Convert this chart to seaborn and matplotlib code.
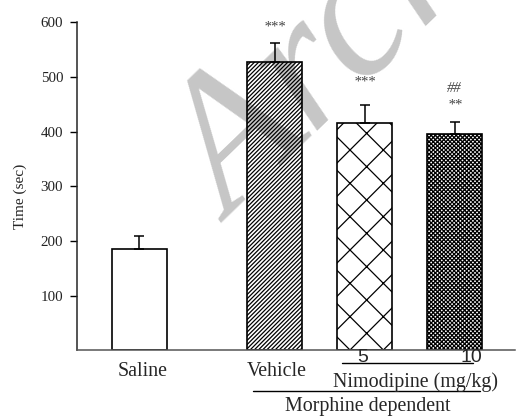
import matplotlib
matplotlib.use("Agg")
import matplotlib.pyplot as plt
import matplotlib.transforms as mtransforms
import seaborn as sns

# bar data (Time in sec, mean and SEM)
groups = ["Saline", "Vehicle", "Nimodipine 5", "Nimodipine 10"]
time_mean = [186, 528, 416, 396]
time_sem = [23, 34, 33, 22]
stars = ["", "***", "***", "**"]
star_y = [0, 592, 491, 449]
hash_marks = ["", "", "", "##"]
hash_y = [0, 0, 0, 480]
yticks = [100, 200, 300, 400, 500, 600]

# layout: Saline set apart from the morphine dependent groups
group_pos = [0, 1.5, 2.5, 3.5]
hatches = ["", "////////", "x", "xxxxxxxx"]

sns.set_style("ticks")
plt.rcParams["font.family"] = ["Liberation Serif", "DejaVu Serif"]
plt.rcParams["hatch.linewidth"] = 0.9

fig = plt.figure(figsize=(5.18, 4.16), dpi=100)
fig.patch.set_facecolor("white")
ax = fig.add_axes([77 / 518, 0.1575, 438 / 518, 0.7885])
ax.patch.set_alpha(0)

# watermark behind the bars
fig.text(232 / 518, 1 - 224 / 416, "Archive of SID", rotation=44,
         rotation_mode="anchor", ha="left", va="baseline", fontsize=137,
         style="italic", color="#c6c6c6", zorder=-5)

sns.barplot(x=group_pos, y=time_mean, native_scale=True, width=0.61,
            color="white", edgecolor="black", linewidth=1.2, errorbar=None,
            ax=ax)
for bar, h in zip(ax.patches, hatches):
    bar.set_hatch(h)
    bar.set_facecolor("none")

ax.errorbar(group_pos, time_mean, yerr=[[0] * 4, time_sem], fmt="none",
            ecolor="black", elinewidth=1.1, capsize=3.3, capthick=1.1)

for x, s, sy, hs, hy in zip(group_pos, stars, star_y, hash_marks, hash_y):
    if s:
        ax.text(x, sy, s, ha="center", va="center", fontsize=10.5,
                color="#444444", style="italic")
    if hs:
        ax.text(x, hy, hs, ha="center", va="center", fontsize=10.5,
                color="#444444", style="italic")

ax.set_xlim(-0.694, 4.17)
ax.set_ylim(0, 600)
ax.set_yticks(yticks)
ax.set_xticks([])
ax.tick_params(axis="y", labelsize=10.8, length=5, width=1, pad=5,
               colors="black")
for lab in ax.get_yticklabels():
    lab.set_color("#222222")
ax.set_ylabel("Time (sec)", fontsize=11)
ax.yaxis.set_label_coords(-0.114, 0.47)
sns.despine(ax=ax)
ax.spines["left"].set_linewidth(1.1)
ax.spines["bottom"].set_linewidth(1.1)
ax.spines["bottom"].set_color("#555555")

# group labels under the axis
tr = mtransforms.blended_transform_factory(ax.transData, ax.transAxes)
ax.text(group_pos[0] + 0.04, -0.078, "Saline", transform=tr, ha="center",
        va="baseline", fontsize=14.4, clip_on=False)
ax.text(group_pos[1] + 0.03, -0.078, "Vehicle", transform=tr, ha="center",
        va="baseline", fontsize=14.4, clip_on=False)
ax.text(group_pos[2] - 0.02, -0.035, "5", transform=tr, ha="center",
        va="baseline", fontsize=14, family="Liberation Sans", clip_on=False)
ax.text(group_pos[3] + 0.19, -0.035, "10", transform=tr, ha="center",
        va="baseline", fontsize=14, family="Liberation Sans", clip_on=False)
ax.plot([2.25, 3.705], [-0.038, -0.038], transform=tr, color="black",
        lw=1, clip_on=False)
ax.text(3.06, -0.111, "Nimodipine (mg/kg)", transform=tr, ha="center",
        va="baseline", fontsize=14.4, clip_on=False)
ax.plot([1.26, 3.78], [-0.123, -0.123], transform=tr, color="black",
        lw=1, clip_on=False)
ax.text(2.53, -0.184, "Morphine dependent", transform=tr, ha="center",
        va="baseline", fontsize=14.4, clip_on=False)

fig.savefig("out.png", dpi=100, facecolor="white")
